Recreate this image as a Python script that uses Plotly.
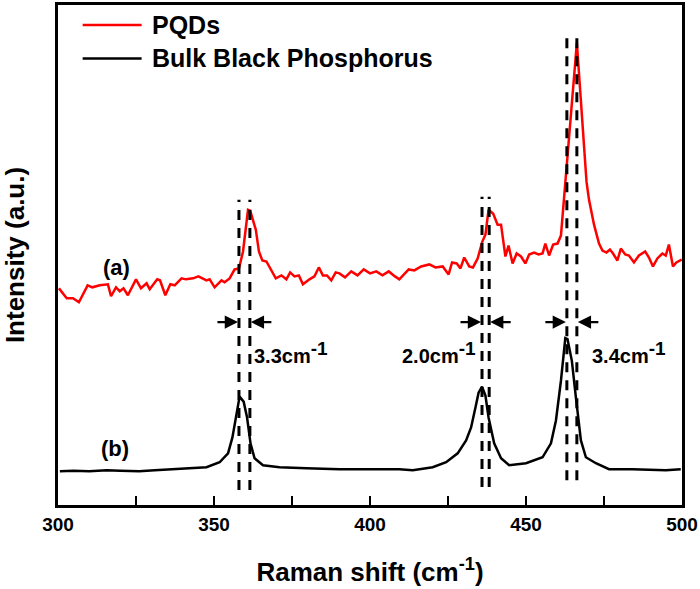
import plotly.graph_objects as go

# ---- data (Raman shift in cm^-1, intensity in arbitrary units) ----
pqd_x = [300.3, 302.8, 304.8, 306.7, 309.5, 311.0, 313.4, 316.0, 317.0, 318.6, 319.8, 321.0, 322.4,
         325.0, 326.6, 328.4, 329.4, 331.8, 332.7, 334.4, 336.0, 337.4, 339.6, 341.0, 343.3, 345.0,
         347.6, 348.6, 350.2, 352.4, 353.4, 355.0, 356.6, 358.0, 359.3, 360.9, 361.6, 363.4, 364.4,
         365.5, 366.8, 369.8, 371.6, 373.2, 374.4, 375.8, 377.2, 378.5, 380.6, 382.2, 383.6, 384.9,
         386.2, 387.6, 389.0, 390.2, 392.0, 394.0, 396.0, 398.0, 400.0, 402.0, 404.0, 406.0, 408.0,
         409.4, 412.4, 414.2, 416.4, 419.0, 421.0, 423.3, 425.2, 426.3, 427.8, 429.0, 430.2, 431.8,
         433.0, 434.5, 436.0, 437.0, 438.0, 439.5, 440.9, 442.0, 443.4, 444.4, 445.7, 447.0, 448.4,
         449.8, 451.0, 452.6, 454.0, 455.3, 456.2, 457.4, 458.7, 460.1, 461.2, 466.3, 469.4, 470.2,
         471.8, 473.4, 474.5, 475.8, 476.9, 477.9, 479.3, 480.4, 481.8, 483.0, 484.6, 486.2, 488.2,
         489.4, 490.7, 492.1, 493.7, 494.8, 495.8, 497.1, 498.2, 499.9]
pqd_y = [218, 208, 208, 204, 221, 219, 221, 222, 210, 219, 215, 218, 211,
         227, 218, 223, 217, 227, 226, 211, 222, 221, 228, 227, 228, 230,
         226, 227, 219, 226, 224, 228, 237, 238, 255, 297, 296, 277, 255,
         246, 245, 228, 231, 227, 234, 230, 231, 222, 227, 230, 239, 231,
         231, 226, 234, 233, 229, 235, 231, 237, 233, 235, 231, 235, 230,
         227, 237, 236, 240, 242, 239, 240, 232, 244, 243, 238, 249, 240,
         239, 248, 265, 272, 297, 293, 282, 282, 250, 261, 243, 253, 250,
         243, 252, 254, 252, 253, 263, 251, 262, 263, 271, 465, 325, 307,
         282, 263, 256, 254, 257, 253, 246, 258, 252, 251, 244, 251, 255,
         249, 240, 248, 253, 251, 262, 240, 244, 247]

bulk_x = [300.6, 305.0, 310.0, 315.6, 320.0, 326.0, 331.0, 336.8, 342.0, 347.6, 351.8, 354.5,
          355.9, 357.2, 358.2, 359.5, 360.6, 361.7, 363.0, 365.7, 371.0, 379.6, 390.2, 399.8,
          409.4, 413.7, 420.1, 424.4, 428.1, 430.8, 432.4, 433.8, 434.8, 435.9, 437.0, 438.0,
          439.8, 442.0, 444.6, 450.0, 455.3, 458.0, 459.6, 461.2, 462.6, 463.3, 464.7, 466.0,
          467.6, 469.2, 472.4, 476.6, 484.1, 494.8, 499.6]
bulk_y = [34, 34.5, 34, 35, 34.5, 34, 35, 36, 36.5, 38, 43, 52,
          68, 92, 109, 104, 88, 62, 47, 40, 38, 37, 36, 36,
          36, 35, 38, 43, 52, 65, 78, 98, 113, 119, 110, 88,
          62, 47, 40, 42, 48, 62, 85, 125, 168, 167, 145, 108,
          65, 48, 42, 36, 36, 35, 36]

# peak positions marked by dashed lines and the resulting shifts
bulk_peaks = [358.0, 435.9, 463.1]
pqd_peaks = [361.5, 438.2, 466.3]
shift_labels = ["3.3", "2.0", "3.4"]
line_spans = [(15, 307), (18, 310), (25, 473)]   # vertical extent of each dashed pair
label_x = [362.2, 409.6, 470.6]

FONT = "Arial, Liberation Sans, sans-serif"

fig = go.Figure()
fig.add_trace(go.Scatter(x=pqd_x, y=pqd_y, mode="lines", name="PQDs",
                         line=dict(color="#ff0000", width=2.5), showlegend=False))
fig.add_trace(go.Scatter(x=bulk_x, y=bulk_y, mode="lines", name="Bulk Black Phosphorus",
                         line=dict(color="#000000", width=2.5), showlegend=False))

# dashed vertical guide lines
for (b, p, (y0, y1)) in zip(bulk_peaks, pqd_peaks, line_spans):
    for xv in (b, p):
        fig.add_shape(type="line", xref="x", yref="y", x0=xv, x1=xv, y0=y0, y1=y1,
                      line=dict(color="black", width=3, dash="10px,8px"))

# arrows and shift labels
arrow_y = 184
for b, p, lab, lx in zip(bulk_peaks, pqd_peaks, shift_labels, label_x):
    fig.add_annotation(x=b, y=arrow_y, xref="x", yref="y", ax=-23, ay=0, text="",
                       showarrow=True, arrowhead=2, arrowsize=1.2, arrowwidth=2.2,
                       arrowcolor="black", standoff=1)
    fig.add_annotation(x=p, y=arrow_y, xref="x", yref="y", ax=23, ay=0, text="",
                       showarrow=True, arrowhead=2, arrowsize=1.2, arrowwidth=2.2,
                       arrowcolor="black", standoff=1)
    fig.add_annotation(x=lx, y=153, xref="x", yref="y", xanchor="left", yanchor="middle",
                       text="<b>" + lab + "cm<sup><span style='font-size:19px'>-1</span></sup></b>",
                       showarrow=False,
                       font=dict(family=FONT, size=20, color="black"))

# curve labels
fig.add_annotation(x=318.8, y=239, xref="x", yref="y", text="<b>(a)</b>", showarrow=False,
                   font=dict(family=FONT, size=22, color="black"))
fig.add_annotation(x=318.2, y=57, xref="x", yref="y", text="<b>(b)</b>", showarrow=False,
                   font=dict(family=FONT, size=22, color="black"))

# legend (drawn manually to match line sample length)
legend_items = [("PQDs", "#ff0000", 0.960), ("Bulk Black Phosphorus", "#000000", 0.893)]
for name, col, yp in legend_items:
    fig.add_shape(type="line", xref="paper", yref="paper", x0=0.0395, x1=0.134, y0=yp, y1=yp,
                  line=dict(color=col, width=2.5))
    fig.add_annotation(x=0.147, y=yp, xref="paper", yref="paper", xanchor="left",
                       yanchor="middle", text="<b>" + name + "</b>", showarrow=False,
                       font=dict(family=FONT, size=25, color="black"))

fig.update_layout(
    width=700, height=589,
    margin=dict(l=58, r=17, t=2, b=84),
    plot_bgcolor="white", paper_bgcolor="white",
    font=dict(family=FONT, color="black"),
)
fig.update_xaxes(
    range=[300, 500], dtick=50, showgrid=False, zeroline=False,
    showline=True, linecolor="black", linewidth=2.5, mirror=True,
    ticks="inside", ticklen=9, tickwidth=2, tickcolor="black",
    minor=dict(dtick=25, ticks="inside", ticklen=9, tickwidth=2, tickcolor="black", showgrid=False),
    tickfont=dict(family=FONT, size=19, color="black", weight="bold"),
    title=dict(text="<b>Raman shift (cm<sup>-1</sup>)</b>", standoff=30,
               font=dict(family=FONT, size=26, color="black")),
)
fig.update_yaxes(
    range=[0, 503], showgrid=False, zeroline=False, showticklabels=False, ticks="",
    showline=True, linecolor="black", linewidth=2.5, mirror=True,
    title=dict(text="<b>Intensity (a.u.)</b>", standoff=26,
               font=dict(family=FONT, size=26, color="black")),
)

fig.write_html("out.html", config={"displayModeBar": False},
               post_script="document.body.style.margin='0px';")
